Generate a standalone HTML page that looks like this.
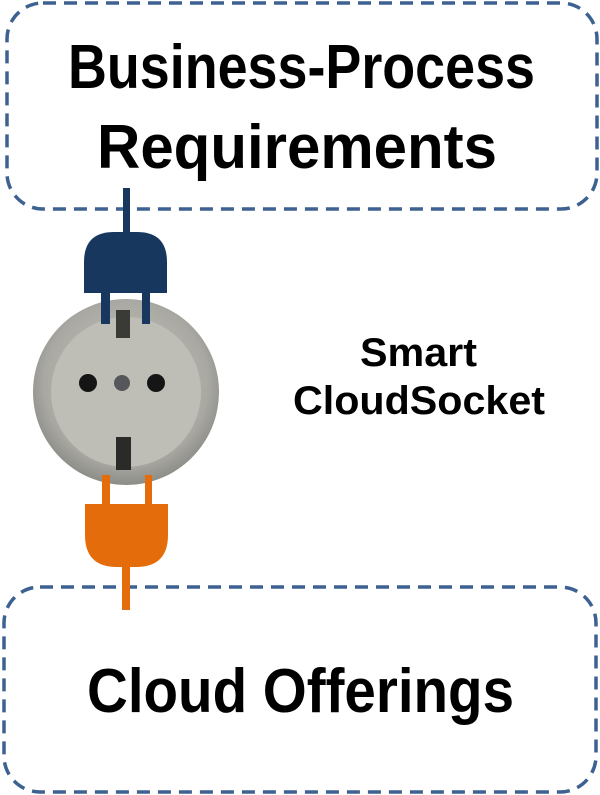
<!DOCTYPE html>
<html><head><meta charset="utf-8"><style>html,body{margin:0;padding:0;background:#fff}svg{display:block}</style></head>
<body>
<svg width="600" height="795" viewBox="0 0 600 795" xmlns="http://www.w3.org/2000/svg">
<rect x="7" y="3" width="590" height="206" rx="36" fill="none" stroke="#3d6190" stroke-width="3.5" stroke-dasharray="13 8"/>
<rect x="4" y="587" width="592" height="205" rx="36" fill="none" stroke="#3d6190" stroke-width="3.5" stroke-dasharray="13 8"/>
<g font-family="Liberation Sans, sans-serif" font-weight="bold" fill="#000">
<text x="68" y="88" font-size="62" textLength="467" lengthAdjust="spacingAndGlyphs">Business-Process</text>
<text x="97" y="168" font-size="62" textLength="400" lengthAdjust="spacingAndGlyphs">Requirements</text>
<text x="87" y="712" font-size="62" textLength="427" lengthAdjust="spacingAndGlyphs">Cloud Offerings</text>
<text x="360" y="366" font-size="40" textLength="117" lengthAdjust="spacingAndGlyphs">Smart</text>
<text x="293" y="414" font-size="40" textLength="252" lengthAdjust="spacingAndGlyphs">CloudSocket</text>
</g>
<defs><radialGradient id="g" cx="50%" cy="45%" r="55%"><stop offset="0" stop-color="#c9c8c0"/><stop offset="0.8" stop-color="#a9a8a2"/><stop offset="1" stop-color="#8d8d88"/></radialGradient></defs>
<circle cx="126" cy="392" r="93" fill="url(#g)"/>
<circle cx="126" cy="392" r="75" fill="#bfbeb6"/>
<circle cx="88" cy="383" r="9" fill="#151515"/>
<circle cx="122" cy="383" r="8" fill="#55575a"/>
<circle cx="156" cy="383" r="9" fill="#151515"/>
<rect x="116" y="310" width="14" height="28" fill="#3a3a36"/>
<rect x="116" y="437" width="15" height="33" fill="#2a2a28"/>
<rect x="123" y="188" width="7" height="46" fill="#17375f"/>
<path d="M84 293 V262 Q84 232 114 232 H137 Q167 232 167 262 V293 Z" fill="#17375f"/>
<rect x="101" y="292" width="9" height="32" fill="#17375f"/>
<rect x="142" y="292" width="8" height="32" fill="#17375f"/>
<rect x="102" y="475" width="8" height="31" fill="#e46c0a"/>
<rect x="145" y="475" width="7" height="31" fill="#e46c0a"/>
<path d="M85 504 H168 V535 Q168 567 136 567 H117 Q85 567 85 535 Z" fill="#e46c0a"/>
<rect x="122" y="565" width="8" height="45" fill="#e46c0a"/>
</svg>
</body></html>
